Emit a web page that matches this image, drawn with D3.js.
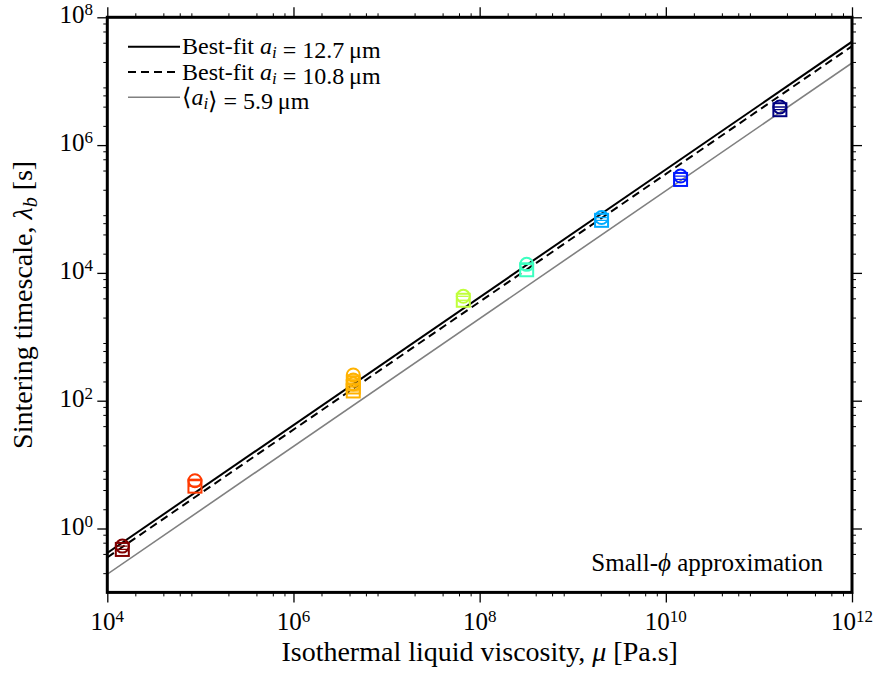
<!DOCTYPE html>
<html>
<head>
<meta charset="utf-8">
<script src="https://cdn.jsdelivr.net/npm/d3@7"></script>
<style>
  html, body { margin: 0; padding: 0; background: #fff; }
  svg { display: block; }
  text { font-family: "Liberation Serif", "DejaVu Serif", serif; fill: #000; }
</style>
</head>
<body>
<svg id="chart" width="878" height="679"></svg>
<script>
// ---- data ----------------------------------------------------------------
// viscosity of each sample group [Pa.s]
const viscosity = [1.45e4, 8.74e4, 4.39e6, 6.67e7, 3.2e8, 2.04e9, 1.44e10, 1.68e11];
// sintering timescale from the circle-marker fits [s]
const lambdaCircle = [[0.53], [5.6], [253, 211, 183], [4300], [13600], [73600], [328000], [3.95e6]];
// sintering timescale from the square-marker fits [s]
const lambdaSquare = [[0.47], [4.6], [189, 164, 142], [3730], [11200], [66500], [290000], [3.58e6]];
// relative uncertainty on viscosity
const viscosityErr = [0.14, 0.14, 0.14, 0.14, 0.14, 0.14, 0.14, 0.14];
// group colours (jet, high viscosity -> low)
const groupColors = ["#800000", "#ff3a00", "#ffb200", "#c0ff3c", "#3cffc0", "#00aaff", "#0018ff", "#000080"];

// model lines: lambda = K * a * mu  (a in micrometres)
const fitRadius = [12.7, 10.8, 5.9];
const fitLabels = [
  [["Best-fit ", ""], ["a", "i"], [" = 12.7\u2009\u03bcm", ""]],
  [["Best-fit ", ""], ["a", "i"], [" = 10.8\u2009\u03bcm", ""]],
  [["\u27e8", ""], ["a", "i"], ["\u27e9 = 5.9\u2009\u03bcm", ""]]
];
const timescalePerMicron = 3.27e-6;

// axes
const xDomain = [1e4, 1e12];
const yDomain = [1e-1, 1e8];
const xTickExps = [4, 6, 8, 10, 12];
const yTickExps = [0, 2, 4, 6, 8];
const minorSubs = [2, 4, 6, 8];

// ---- layout --------------------------------------------------------------
const svg = d3.select("#chart");
const box = { left: 107.3, right: 852, top: 17.3, bottom: 592.4 };
const x = d3.scaleLog().domain(xDomain).range([box.left, box.right]);
const y = d3.scaleLog().domain(yDomain).range([box.bottom, box.top]);

function minorTicks(domain) {
  const lo = Math.round(Math.log10(domain[0])), hi = Math.round(Math.log10(domain[1]));
  const out = [];
  for (let e = lo; e < hi; e++) minorSubs.forEach(s => out.push(s * Math.pow(10, e)));
  return out;
}
const xMinor = minorTicks(xDomain);
const yMinor = minorTicks(yDomain);
const xMajor = xTickExps.map(e => Math.pow(10, e));
const yMajor = yTickExps.map(e => Math.pow(10, e));

// tick marks on all four sides (outward)
function drawAxis(gen, translate, values, size, width) {
  const g = svg.append("g").attr("transform", translate)
    .call(gen.tickValues(values).tickSize(size).tickFormat(""));
  g.select(".domain").remove();
  g.selectAll(".tick line").attr("stroke", "#000").attr("stroke-width", width);
  return g;
}
drawAxis(d3.axisBottom(x), `translate(0,${box.bottom})`, xMinor, 4, 1);
drawAxis(d3.axisTop(x), `translate(0,${box.top})`, xMinor, 4, 1);
drawAxis(d3.axisBottom(x), `translate(0,${box.bottom})`, xMajor, 10, 1.3);
drawAxis(d3.axisTop(x), `translate(0,${box.top})`, xMajor, 10, 1.3);
drawAxis(d3.axisLeft(y), `translate(${box.left},0)`, yMinor, 4, 1);
drawAxis(d3.axisRight(y), `translate(${box.right},0)`, yMinor, 4, 1);
drawAxis(d3.axisLeft(y), `translate(${box.left},0)`, yMajor, 10, 1.3);
drawAxis(d3.axisRight(y), `translate(${box.right},0)`, yMajor, 10, 1.3);

// tick labels 10^n
xTickExps.forEach(e => {
  const t = svg.append("text").attr("x", x(Math.pow(10, e))).attr("y", 630)
    .attr("text-anchor", "middle").attr("font-size", 25);
  t.append("tspan").text("10");
  t.append("tspan").attr("font-size", 17).attr("dy", -8).text(e);
});
yTickExps.forEach(e => {
  const t = svg.append("text").attr("x", 93).attr("y", y(Math.pow(10, e)) + 6)
    .attr("text-anchor", "end").attr("font-size", 25);
  t.append("tspan").text("10");
  t.append("tspan").attr("font-size", 17).attr("dy", -8).text(e);
});

// clip to plotting area
svg.append("clipPath").attr("id", "plot-clip")
  .append("rect").attr("x", box.left).attr("y", box.top)
  .attr("width", box.right - box.left).attr("height", box.bottom - box.top);
const plot = svg.append("g").attr("clip-path", "url(#plot-clip)");

// model lines
const lineStyles = [
  { stroke: "#000", width: 2, dash: null },
  { stroke: "#000", width: 2, dash: "8,5" },
  { stroke: "#808080", width: 1.6, dash: null }
];
const line = d3.line().x(d => x(d[0])).y(d => y(d[1]));
fitRadius.forEach((a, i) => {
  const pts = xDomain.map(mu => [mu, timescalePerMicron * a * mu]);
  plot.append("path").attr("d", line(pts)).attr("fill", "none")
    .attr("stroke", lineStyles[i].stroke).attr("stroke-width", lineStyles[i].width)
    .attr("stroke-dasharray", lineStyles[i].dash);
});

// data markers with horizontal error bars
const r = 6.5;
viscosity.forEach((mu, i) => {
  const col = groupColors[i];
  const g = plot.append("g").attr("stroke", col).attr("fill", "none").attr("stroke-width", 2);
  const cx = x(mu);
  const x0 = x(mu * (1 - viscosityErr[i])), x1 = x(mu * (1 + viscosityErr[i]));
  lambdaCircle[i].forEach(l => {
    g.append("line").attr("x1", x0).attr("x2", x1).attr("y1", y(l)).attr("y2", y(l)).attr("stroke-width", 1.3);
    g.append("circle").attr("cx", cx).attr("cy", y(l)).attr("r", r);
  });
  lambdaSquare[i].forEach(l => {
    g.append("line").attr("x1", x0).attr("x2", x1).attr("y1", y(l)).attr("y2", y(l)).attr("stroke-width", 1.3);
    g.append("rect").attr("x", cx - r).attr("y", y(l) - r).attr("width", 2 * r).attr("height", 2 * r);
  });
});

// frame
svg.append("rect").attr("x", box.left).attr("y", box.top)
  .attr("width", box.right - box.left).attr("height", box.bottom - box.top)
  .attr("fill", "none").attr("stroke", "#000").attr("stroke-width", 3);

// legend
fitLabels.forEach((parts, i) => {
  const ly = 46.7 + i * 25.3;
  svg.append("line").attr("x1", 128).attr("x2", 180).attr("y1", ly).attr("y2", ly)
    .attr("stroke", lineStyles[i].stroke).attr("stroke-width", lineStyles[i].width)
    .attr("stroke-dasharray", lineStyles[i].dash);
  const t = svg.append("text").attr("x", 182).attr("y", ly + 7.5).attr("font-size", 24);
  parts.forEach(([main, sub]) => {
    if (sub) {
      t.append("tspan").attr("font-style", "italic").text(main);
      t.append("tspan").attr("font-style", "italic").attr("font-size", 17).attr("dy", 4).text(sub);
      t.append("tspan").attr("dy", -4).text("");
    } else {
      t.append("tspan").text(main);
    }
  });
});

// annotation
const note = svg.append("text").attr("x", 823).attr("y", 571).attr("text-anchor", "end").attr("font-size", 25);
note.append("tspan").text("Small-");
note.append("tspan").attr("font-style", "italic").text("\u03d5");
note.append("tspan").text(" approximation");

// axis titles
const xt = svg.append("text").attr("x", (box.left + box.right) / 2).attr("y", 661)
  .attr("text-anchor", "middle").attr("font-size", 28);
xt.append("tspan").text("Isothermal liquid viscosity, ");
xt.append("tspan").attr("font-style", "italic").text("\u03bc");
xt.append("tspan").text(" [Pa.s]");

const yt = svg.append("text").attr("transform", `translate(32,${(box.top + box.bottom) / 2}) rotate(-90)`)
  .attr("text-anchor", "middle").attr("font-size", 28);
yt.append("tspan").text("Sintering timescale, ");
yt.append("tspan").attr("font-style", "italic").text("\u03bb");
yt.append("tspan").attr("font-style", "italic").attr("font-size", 20).attr("dy", 5).text("b");
yt.append("tspan").attr("dy", -5).text(" [s]");
</script>
</body>
</html>
